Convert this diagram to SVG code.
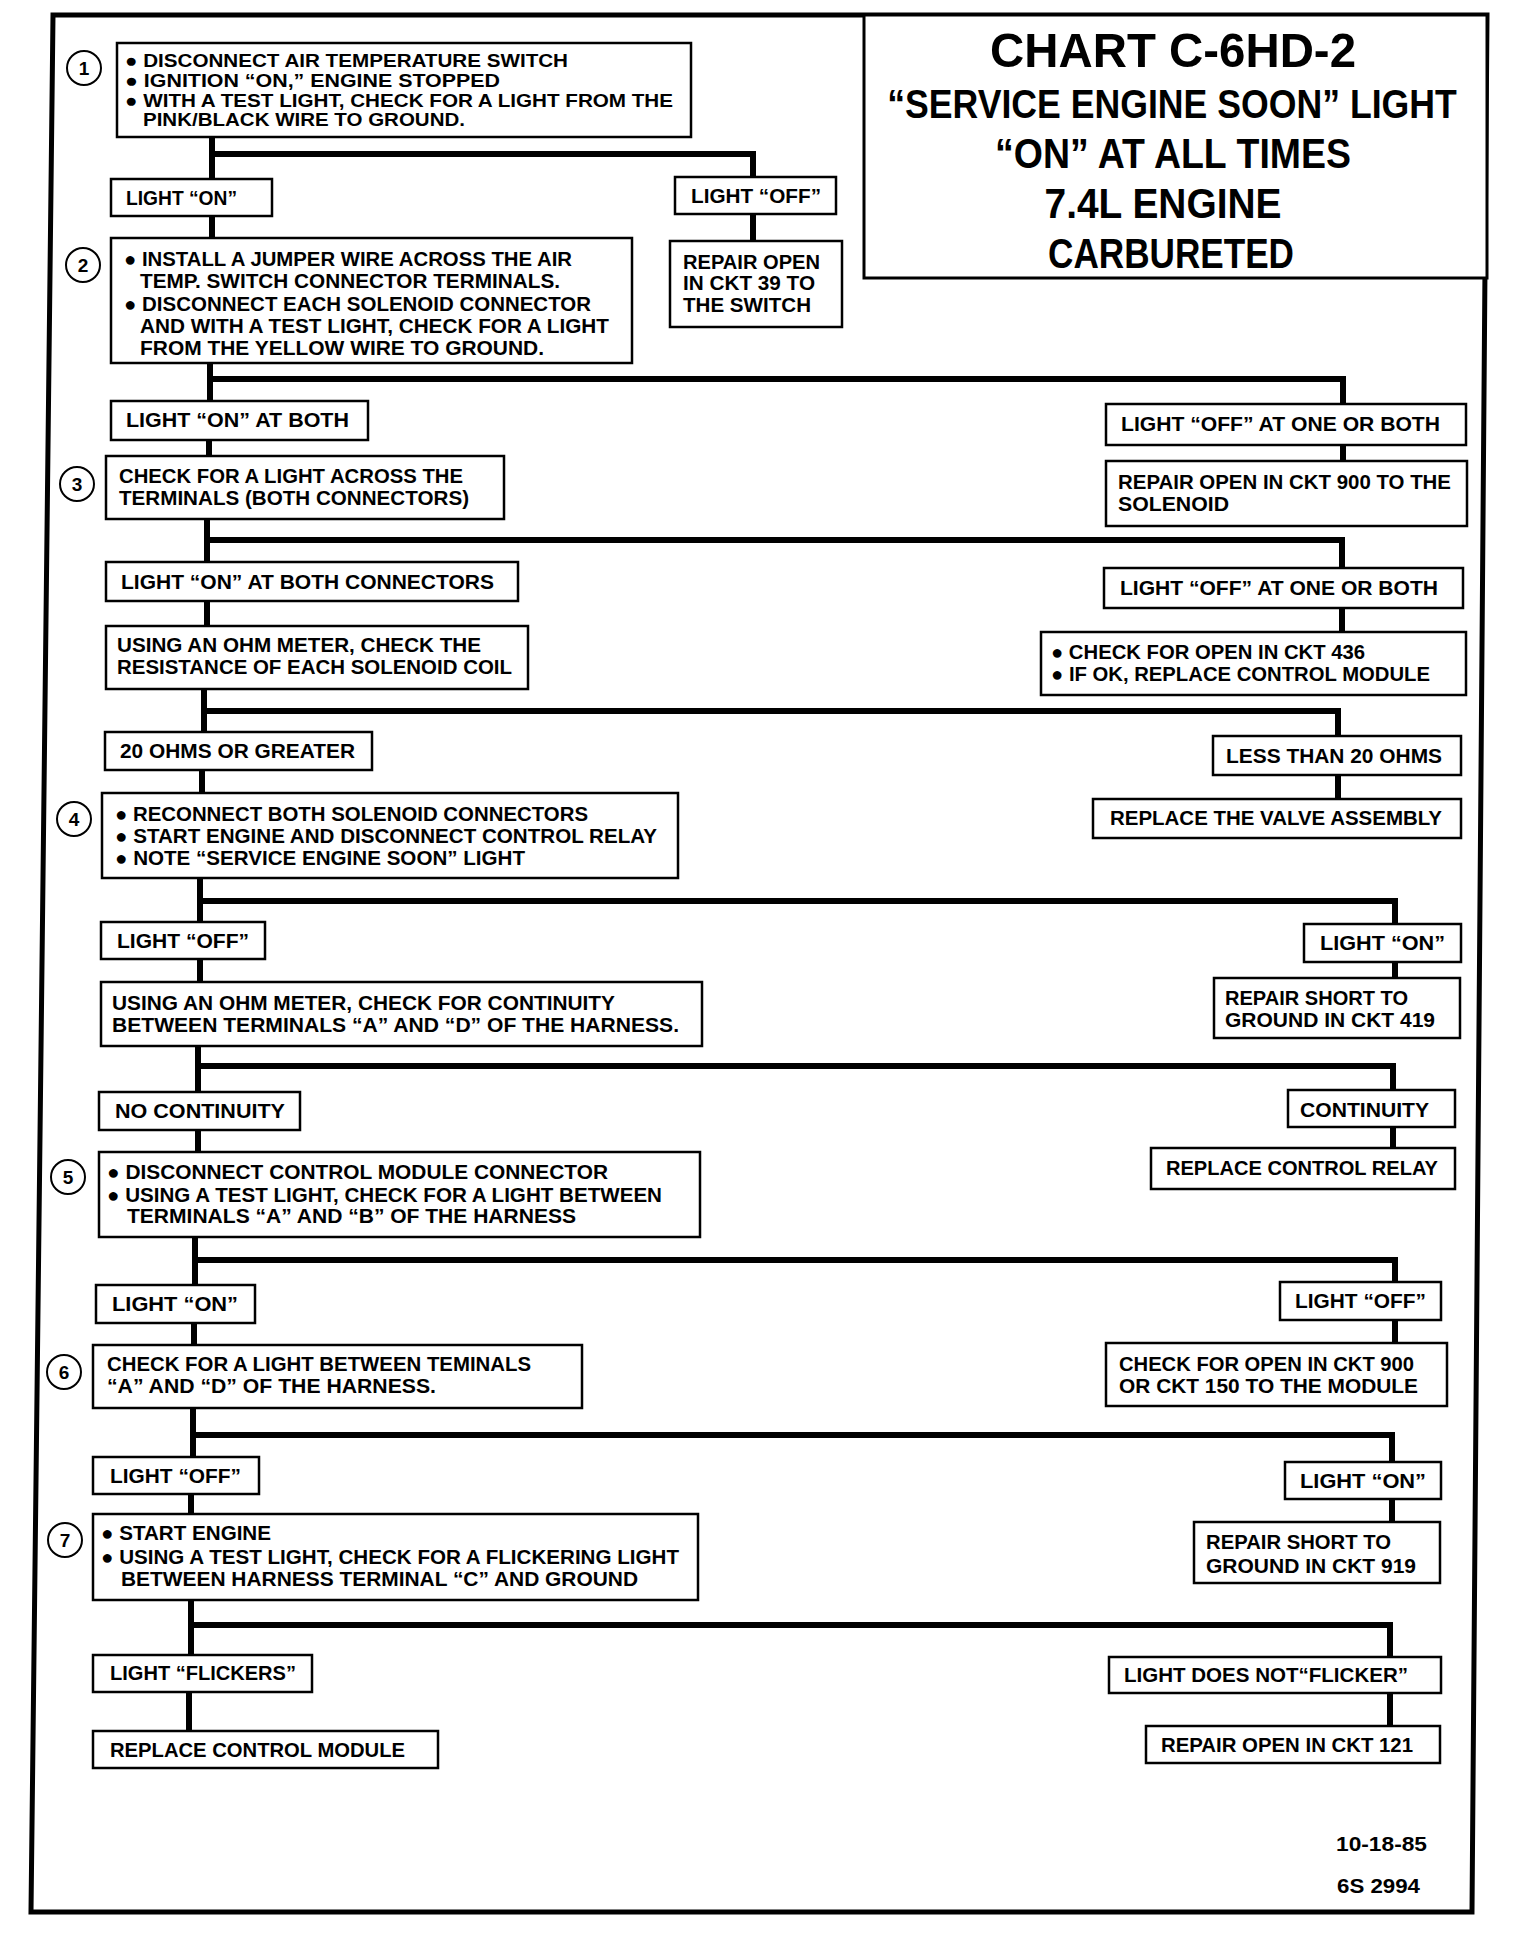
<svg xmlns="http://www.w3.org/2000/svg" width="1520" height="1936" viewBox="0 0 1520 1936">
<style>
.bx{fill:#fff;stroke:#000;stroke-width:2.5}
.t{font-family:"Liberation Sans Narrow","Liberation Sans",Arial,sans-serif;font-weight:700;font-size:20px;fill:#000}
.t1{font-size:19px}
.ti{font-family:"Liberation Sans Narrow","Liberation Sans",Arial,sans-serif;font-weight:700;fill:#000;text-anchor:middle}
.cn{fill:none;stroke:#000;stroke-width:6;stroke-linejoin:miter;stroke-linecap:butt}
.ci{fill:#fff;stroke:#000;stroke-width:2}
.cnum{font-family:"Liberation Sans",Arial,sans-serif;font-weight:700;font-size:19px;text-anchor:middle;fill:#000}
</style>
<rect width="1520" height="1936" fill="#fff"/>
<polygon points="53,15 1487,15 1472,1912 31,1912" fill="none" stroke="#000" stroke-width="5"/>

<g id="connectors">
<path class="cn" d="M212 137V179"/>
<path class="cn" d="M212 154H753V177"/>
<path class="cn" d="M753 214V241"/>
<path class="cn" d="M212 216V238"/>
<path class="cn" d="M210 363V401"/>
<path class="cn" d="M210 379H1343V404"/>
<path class="cn" d="M1343 445V461"/>
<path class="cn" d="M209 440V456"/>
<path class="cn" d="M207 519V562"/>
<path class="cn" d="M207 540H1342V568"/>
<path class="cn" d="M1342 608V632"/>
<path class="cn" d="M207 601V626"/>
<path class="cn" d="M204 689V732"/>
<path class="cn" d="M204 711H1338V736"/>
<path class="cn" d="M1338 775V799"/>
<path class="cn" d="M202 770V793"/>
<path class="cn" d="M200 878V922"/>
<path class="cn" d="M200 901H1395V924"/>
<path class="cn" d="M1395 962V978"/>
<path class="cn" d="M200 959V982"/>
<path class="cn" d="M198 1046V1092"/>
<path class="cn" d="M198 1066H1393V1090"/>
<path class="cn" d="M1393 1127V1148"/>
<path class="cn" d="M198 1130V1152"/>
<path class="cn" d="M195 1237V1285"/>
<path class="cn" d="M195 1260H1395V1282"/>
<path class="cn" d="M1395 1320V1343"/>
<path class="cn" d="M194 1324V1345"/>
<path class="cn" d="M193 1408V1457"/>
<path class="cn" d="M193 1435H1392V1462"/>
<path class="cn" d="M1392 1499V1522"/>
<path class="cn" d="M191 1494V1514"/>
<path class="cn" d="M191 1600V1655"/>
<path class="cn" d="M191 1625H1390V1657"/>
<path class="cn" d="M1390 1693V1726"/>
<path class="cn" d="M189 1692V1731"/>
</g>

<g id="title">
<rect x="864" y="15" width="623" height="263" fill="#fff" stroke="#000" stroke-width="3"/>
<text class="ti" x="1173" y="67" font-size="49" textLength="366" lengthAdjust="spacingAndGlyphs">CHART C-6HD-2</text>
<text class="ti" transform="translate(1172,118) scale(0.8,1)" x="0" y="0" font-size="41" textLength="712" lengthAdjust="spacingAndGlyphs">“SERVICE ENGINE SOON” LIGHT</text>
<text class="ti" x="1173" y="168" font-size="43" textLength="356" lengthAdjust="spacingAndGlyphs">“ON” AT ALL TIMES</text>
<text class="ti" x="1163" y="218" font-size="43" textLength="237" lengthAdjust="spacingAndGlyphs">7.4L ENGINE</text>
<text class="ti" x="1171" y="268" font-size="43" textLength="246" lengthAdjust="spacingAndGlyphs">CARBURETED</text>
</g>

<g id="step1">
<circle class="ci" cx="84" cy="68" r="17"/><text class="cnum" x="84" y="75">1</text>
<rect class="bx" x="117" y="43" width="574" height="94"/>
<text class="t t1" x="125" y="67" textLength="443" lengthAdjust="spacingAndGlyphs">● DISCONNECT AIR TEMPERATURE SWITCH</text>
<text class="t t1" x="125" y="87" textLength="375" lengthAdjust="spacingAndGlyphs">● IGNITION “ON,” ENGINE  STOPPED</text>
<text class="t t1" x="125" y="107" textLength="548" lengthAdjust="spacingAndGlyphs">● WITH A TEST LIGHT, CHECK FOR A LIGHT FROM THE</text>
<text class="t t1" x="143" y="126" textLength="322" lengthAdjust="spacingAndGlyphs">PINK/BLACK WIRE TO GROUND.</text>
</g>

<g id="on1">
<rect class="bx" x="111" y="179" width="161" height="37"/>
<text class="t" x="126" y="205" textLength="111" lengthAdjust="spacingAndGlyphs">LIGHT “ON”</text>
</g>
<g id="off1">
<rect class="bx" x="675" y="177" width="161" height="37"/>
<text class="t" x="691" y="203" textLength="130" lengthAdjust="spacingAndGlyphs">LIGHT “OFF”</text>
</g>
<g id="repair39">
<rect class="bx" x="670" y="241" width="172" height="86"/>
<text class="t" x="683" y="269" textLength="137" lengthAdjust="spacingAndGlyphs">REPAIR OPEN</text>
<text class="t" x="683" y="290" textLength="132" lengthAdjust="spacingAndGlyphs">IN CKT 39 TO</text>
<text class="t" x="683" y="312" textLength="128" lengthAdjust="spacingAndGlyphs">THE SWITCH</text>
</g>

<g id="step2">
<circle class="ci" cx="83" cy="265" r="17"/><text class="cnum" x="83" y="272">2</text>
<rect class="bx" x="111" y="238" width="521" height="125"/>
<text class="t" x="124" y="266" textLength="448" lengthAdjust="spacingAndGlyphs">● INSTALL A JUMPER WIRE ACROSS THE AIR</text>
<text class="t" x="140" y="288" textLength="420" lengthAdjust="spacingAndGlyphs">TEMP. SWITCH CONNECTOR TERMINALS.</text>
<text class="t" x="124" y="311" textLength="467" lengthAdjust="spacingAndGlyphs">● DISCONNECT EACH SOLENOID CONNECTOR</text>
<text class="t" x="140" y="333" textLength="469" lengthAdjust="spacingAndGlyphs">AND WITH A TEST LIGHT, CHECK FOR A LIGHT</text>
<text class="t" x="140" y="355" textLength="404" lengthAdjust="spacingAndGlyphs">FROM THE YELLOW WIRE TO GROUND.</text>
</g>

<g id="onboth">
<rect class="bx" x="111" y="401" width="257" height="39"/>
<text class="t" x="126" y="427" textLength="223" lengthAdjust="spacingAndGlyphs">LIGHT “ON” AT BOTH</text>
</g>
<g id="offboth1">
<rect class="bx" x="1106" y="404" width="360" height="41"/>
<text class="t" x="1121" y="431" textLength="319" lengthAdjust="spacingAndGlyphs">LIGHT “OFF” AT ONE OR BOTH</text>
</g>
<g id="repair900">
<rect class="bx" x="1106" y="461" width="361" height="65"/>
<text class="t" x="1118" y="489" textLength="333" lengthAdjust="spacingAndGlyphs">REPAIR OPEN IN CKT 900 TO THE</text>
<text class="t" x="1118" y="511" textLength="111" lengthAdjust="spacingAndGlyphs">SOLENOID</text>
</g>

<g id="step3">
<circle class="ci" cx="77" cy="484" r="17"/><text class="cnum" x="77" y="491">3</text>
<rect class="bx" x="106" y="456" width="398" height="63"/>
<text class="t" x="119" y="483" textLength="344" lengthAdjust="spacingAndGlyphs">CHECK FOR  A LIGHT ACROSS THE</text>
<text class="t" x="119" y="505" textLength="350" lengthAdjust="spacingAndGlyphs">TERMINALS (BOTH CONNECTORS)</text>
</g>

<g id="onbothconn">
<rect class="bx" x="106" y="562" width="412" height="39"/>
<text class="t" x="121" y="589" textLength="373" lengthAdjust="spacingAndGlyphs">LIGHT “ON” AT BOTH CONNECTORS</text>
</g>
<g id="offboth2">
<rect class="bx" x="1104" y="568" width="359" height="40"/>
<text class="t" x="1120" y="595" textLength="318" lengthAdjust="spacingAndGlyphs">LIGHT “OFF” AT ONE OR BOTH</text>
</g>
<g id="check436">
<rect class="bx" x="1041" y="632" width="425" height="63"/>
<text class="t" x="1051" y="659" textLength="314" lengthAdjust="spacingAndGlyphs">● CHECK FOR OPEN IN CKT 436</text>
<text class="t" x="1051" y="681" textLength="379" lengthAdjust="spacingAndGlyphs">● IF OK, REPLACE CONTROL MODULE</text>
</g>

<g id="ohm1">
<rect class="bx" x="106" y="626" width="422" height="63"/>
<text class="t" x="117" y="652" textLength="364" lengthAdjust="spacingAndGlyphs">USING AN OHM METER, CHECK THE</text>
<text class="t" x="117" y="674" textLength="395" lengthAdjust="spacingAndGlyphs">RESISTANCE OF EACH SOLENOID COIL</text>
</g>

<g id="ohms20">
<rect class="bx" x="105" y="732" width="267" height="38"/>
<text class="t" x="120" y="758" textLength="235" lengthAdjust="spacingAndGlyphs">20 OHMS OR GREATER</text>
</g>
<g id="less20">
<rect class="bx" x="1213" y="736" width="248" height="39"/>
<text class="t" x="1226" y="763" textLength="216" lengthAdjust="spacingAndGlyphs">LESS THAN 20 OHMS</text>
</g>
<g id="valve">
<rect class="bx" x="1093" y="799" width="368" height="39"/>
<text class="t" x="1110" y="825" textLength="332" lengthAdjust="spacingAndGlyphs">REPLACE THE VALVE ASSEMBLY</text>
</g>

<g id="step4">
<circle class="ci" cx="74" cy="819" r="17"/><text class="cnum" x="74" y="826">4</text>
<rect class="bx" x="102" y="793" width="576" height="85"/>
<text class="t" x="115" y="821" textLength="473" lengthAdjust="spacingAndGlyphs">● RECONNECT BOTH SOLENOID CONNECTORS</text>
<text class="t" x="115" y="843" textLength="542" lengthAdjust="spacingAndGlyphs">● START ENGINE AND DISCONNECT CONTROL RELAY</text>
<text class="t" x="115" y="865" textLength="410" lengthAdjust="spacingAndGlyphs">● NOTE “SERVICE ENGINE SOON” LIGHT</text>
</g>

<g id="off4">
<rect class="bx" x="101" y="922" width="164" height="37"/>
<text class="t" x="117" y="948" textLength="132" lengthAdjust="spacingAndGlyphs">LIGHT “OFF”</text>
</g>
<g id="on4">
<rect class="bx" x="1304" y="924" width="157" height="38"/>
<text class="t" x="1320" y="950" textLength="125" lengthAdjust="spacingAndGlyphs">LIGHT “ON”</text>
</g>
<g id="short419">
<rect class="bx" x="1214" y="978" width="246" height="60"/>
<text class="t" x="1225" y="1005" textLength="183" lengthAdjust="spacingAndGlyphs">REPAIR SHORT TO</text>
<text class="t" x="1225" y="1027" textLength="210" lengthAdjust="spacingAndGlyphs">GROUND IN CKT 419</text>
</g>

<g id="ohm2">
<rect class="bx" x="101" y="982" width="601" height="64"/>
<text class="t" x="112" y="1010" textLength="503" lengthAdjust="spacingAndGlyphs">USING AN OHM METER, CHECK FOR CONTINUITY</text>
<text class="t" x="112" y="1032" textLength="567" lengthAdjust="spacingAndGlyphs">BETWEEN TERMINALS “A” AND “D” OF THE HARNESS.</text>
</g>

<g id="nocont">
<rect class="bx" x="99" y="1092" width="201" height="38"/>
<text class="t" x="115" y="1118" textLength="170" lengthAdjust="spacingAndGlyphs">NO CONTINUITY</text>
</g>
<g id="cont">
<rect class="bx" x="1288" y="1090" width="167" height="37"/>
<text class="t" x="1300" y="1117" textLength="129" lengthAdjust="spacingAndGlyphs">CONTINUITY</text>
</g>
<g id="relay">
<rect class="bx" x="1151" y="1148" width="304" height="41"/>
<text class="t" x="1166" y="1175" textLength="272" lengthAdjust="spacingAndGlyphs">REPLACE CONTROL RELAY</text>
</g>

<g id="step5">
<circle class="ci" cx="68" cy="1177" r="17"/><text class="cnum" x="68" y="1184">5</text>
<rect class="bx" x="99" y="1152" width="601" height="85"/>
<text class="t" x="107" y="1179" textLength="501" lengthAdjust="spacingAndGlyphs">● DISCONNECT CONTROL MODULE CONNECTOR</text>
<text class="t" x="107" y="1202" textLength="555" lengthAdjust="spacingAndGlyphs">● USING A TEST LIGHT, CHECK FOR A LIGHT BETWEEN</text>
<text class="t" x="127" y="1223" textLength="449" lengthAdjust="spacingAndGlyphs">TERMINALS “A” AND “B” OF THE HARNESS</text>
</g>

<g id="on5">
<rect class="bx" x="96" y="1285" width="159" height="38"/>
<text class="t" x="112" y="1311" textLength="126" lengthAdjust="spacingAndGlyphs">LIGHT “ON”</text>
</g>
<g id="off5">
<rect class="bx" x="1280" y="1282" width="161" height="38"/>
<text class="t" x="1295" y="1308" textLength="131" lengthAdjust="spacingAndGlyphs">LIGHT “OFF”</text>
</g>
<g id="check900">
<rect class="bx" x="1106" y="1343" width="341" height="63"/>
<text class="t" x="1119" y="1371" textLength="295" lengthAdjust="spacingAndGlyphs">CHECK FOR OPEN IN CKT 900</text>
<text class="t" x="1119" y="1393" textLength="299" lengthAdjust="spacingAndGlyphs">OR CKT 150 TO THE MODULE</text>
</g>

<g id="step6">
<circle class="ci" cx="64" cy="1372" r="17"/><text class="cnum" x="64" y="1379">6</text>
<rect class="bx" x="93" y="1345" width="489" height="63"/>
<text class="t" x="107" y="1371" textLength="424" lengthAdjust="spacingAndGlyphs">CHECK FOR A LIGHT BETWEEN TEMINALS</text>
<text class="t" x="107" y="1393" textLength="329" lengthAdjust="spacingAndGlyphs">“A” AND “D” OF THE HARNESS.</text>
</g>

<g id="off6">
<rect class="bx" x="93" y="1457" width="166" height="37"/>
<text class="t" x="110" y="1483" textLength="131" lengthAdjust="spacingAndGlyphs">LIGHT “OFF”</text>
</g>
<g id="on6">
<rect class="bx" x="1285" y="1462" width="156" height="37"/>
<text class="t" x="1300" y="1488" textLength="126" lengthAdjust="spacingAndGlyphs">LIGHT “ON”</text>
</g>
<g id="short919">
<rect class="bx" x="1194" y="1522" width="246" height="61"/>
<text class="t" x="1206" y="1549" textLength="185" lengthAdjust="spacingAndGlyphs">REPAIR SHORT TO</text>
<text class="t" x="1206" y="1573" textLength="210" lengthAdjust="spacingAndGlyphs">GROUND IN CKT 919</text>
</g>

<g id="step7">
<circle class="ci" cx="65" cy="1540" r="17"/><text class="cnum" x="65" y="1547">7</text>
<rect class="bx" x="93" y="1514" width="605" height="86"/>
<text class="t" x="101" y="1540" textLength="170" lengthAdjust="spacingAndGlyphs">● START ENGINE</text>
<text class="t" x="101" y="1564" textLength="578" lengthAdjust="spacingAndGlyphs">● USING A TEST LIGHT, CHECK FOR  A FLICKERING LIGHT</text>
<text class="t" x="121" y="1586" textLength="517" lengthAdjust="spacingAndGlyphs">BETWEEN HARNESS TERMINAL “C” AND GROUND</text>
</g>

<g id="flickers">
<rect class="bx" x="93" y="1655" width="219" height="37"/>
<text class="t" x="110" y="1680" textLength="186" lengthAdjust="spacingAndGlyphs">LIGHT “FLICKERS”</text>
</g>
<g id="noflicker">
<rect class="bx" x="1109" y="1657" width="332" height="36"/>
<text class="t" x="1124" y="1682" textLength="284" lengthAdjust="spacingAndGlyphs">LIGHT DOES NOT“FLICKER”</text>
</g>
<g id="repair121">
<rect class="bx" x="1146" y="1726" width="294" height="37"/>
<text class="t" x="1161" y="1752" textLength="252" lengthAdjust="spacingAndGlyphs">REPAIR OPEN IN CKT 121</text>
</g>
<g id="replacemodule">
<rect class="bx" x="93" y="1731" width="345" height="37"/>
<text class="t" x="110" y="1757" textLength="295" lengthAdjust="spacingAndGlyphs">REPLACE CONTROL MODULE</text>
</g>

<g id="footer">
<text class="t" x="1336" y="1851" textLength="91" lengthAdjust="spacingAndGlyphs">10-18-85</text>
<text class="t" x="1337" y="1893" textLength="83" lengthAdjust="spacingAndGlyphs">6S 2994</text>
</g>
</svg>
